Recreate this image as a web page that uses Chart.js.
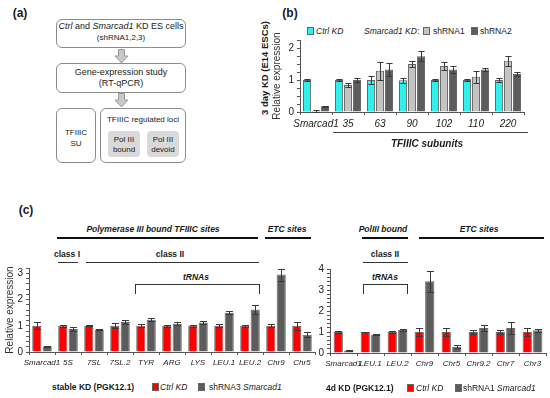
<!DOCTYPE html>
<html lang="en">
<head>
<meta charset="UTF-8">
<title>Smarcad1 KD and TFIIIC</title>
<script src="https://cdn.jsdelivr.net/npm/chart.js@4.4.0/dist/chart.umd.min.js"></script>
<style>
  body { margin: 0; width: 550px; height: 398px; position: relative; background: #fff; overflow: hidden;
         font-family: "Liberation Sans", Arial, sans-serif; color: #1a1a1a; }
  .c { position: absolute; white-space: nowrap; transform: translate(-50%, -50%); }
  .l { position: absolute; white-space: nowrap; transform: translateY(-50%); }
  .rot { transform: translate(-50%, -50%) rotate(-90deg); }
  .b { font-weight: bold; }
  .bi { font-weight: bold; font-style: italic; }
  .box { position: absolute; border: 1px solid #8c8c8c; border-radius: 6px; box-sizing: border-box; }
  .inner { position: absolute; background: #d9d9d9; border-radius: 4px; }
  .hl { position: absolute; background: #111; }
  .brk { position: absolute; border: 1px solid #333; border-bottom: none; box-sizing: border-box; }
  .key { position: absolute; width: 7px; height: 8px; transform: translateY(-50%); box-sizing: border-box; border: 1px solid #666; }
  canvas { position: absolute; }
</style>
</head>
<body>

<!-- panel (a): workflow -->
<div class="c b" style="left:20px;top:13px;font-size:12px">(a)</div>
<div class="box" style="left:56px;top:19px;width:130px;height:29px"></div>
<div class="c" style="left:121px;top:26px;font-size:9px"><i>Ctrl</i> and <i>Smarcad1</i> KD ES cells</div>
<div class="c" style="left:121px;top:37px;font-size:8px">(shRNA1,2,3)</div>
<svg style="position:absolute;left:114px;top:49px" width="15" height="15"><polygon points="4.5,0.5 10.5,0.5 10.5,7 14,7 7.5,14 1,7 4.5,7" fill="#c8c8c8" stroke="#9a9a9a"/></svg>
<div class="box" style="left:56px;top:63px;width:130px;height:30px"></div>
<div class="c" style="left:121px;top:72px;font-size:9px">Gene-expression study</div>
<div class="c" style="left:121px;top:83px;font-size:9px">(RT-qPCR)</div>
<svg style="position:absolute;left:114px;top:93px" width="15" height="15"><polygon points="4.5,0.5 10.5,0.5 10.5,7 14,7 7.5,14 1,7 4.5,7" fill="#c8c8c8" stroke="#9a9a9a"/></svg>
<div class="box" style="left:56px;top:108px;width:40px;height:55px"></div>
<div class="c" style="left:76px;top:132px;font-size:8px">TFIIIC</div>
<div class="c" style="left:76px;top:143px;font-size:8px">SU</div>
<div class="box" style="left:100px;top:108px;width:86px;height:55px"></div>
<div class="c" style="left:143px;top:119px;font-size:8px">TFIIIC regulated loci</div>
<div class="inner" style="left:108px;top:131px;width:32px;height:26px"></div>
<div class="c" style="left:124px;top:139px;font-size:8px">Pol III</div>
<div class="c" style="left:124px;top:149px;font-size:8px">bound</div>
<div class="inner" style="left:147px;top:131px;width:32px;height:26px"></div>
<div class="c" style="left:163px;top:139px;font-size:8px">Pol III</div>
<div class="c" style="left:163px;top:149px;font-size:8px">devoid</div>

<!-- panel (b) -->
<div class="c b" style="left:290px;top:13px;font-size:12px">(b)</div>
<div class="c b rot" style="left:264px;top:68px;font-size:9.5px">3 day KD (E14 ESCs)</div>
<div class="key" style="left:307px;top:31px;background:#2ff0f0"></div>
<div class="l" style="left:316px;top:31px;font-size:8.5px"><i>Ctrl KD</i></div>
<div class="l" style="left:364px;top:31px;font-size:8.5px"><i>Smarcad1 KD</i>:</div>
<div class="key" style="left:423px;top:31px;background:#c4c4c4"></div>
<div class="l" style="left:433px;top:31px;font-size:8.5px">shRNA1</div>
<div class="key" style="left:471px;top:31px;background:#5c5c5c"></div>
<div class="l" style="left:480px;top:31px;font-size:8.5px">shRNA2</div>
<canvas id="chartB" width="262" height="104" style="left:270px;top:30px"></canvas>
<div class="hl" style="left:333px;top:132px;width:195px;height:1px;background:#444"></div>
<div class="c bi" style="left:427px;top:143px;font-size:10px">TFIIIC subunits</div>

<!-- panel (c) -->
<div class="c b" style="left:26px;top:210px;font-size:12px">(c)</div>
<div class="c bi" style="left:153px;top:229px;font-size:8.5px">Polymerase III bound TFIIIC sites</div>
<div class="hl" style="left:57px;top:237px;width:201px;height:2px"></div>
<div class="c bi" style="left:287px;top:229px;font-size:8.5px">ETC sites</div>
<div class="hl" style="left:265px;top:237px;width:46px;height:2px"></div>
<div class="c b" style="left:67px;top:254px;font-size:8.5px">class I</div>
<div class="hl" style="left:58px;top:262px;width:20px;height:1px;background:#333"></div>
<div class="c b" style="left:170px;top:254px;font-size:8.5px">class II</div>
<div class="hl" style="left:86px;top:262px;width:173px;height:1px;background:#333"></div>
<div class="c bi" style="left:196px;top:277px;font-size:8.5px">tRNAs</div>
<div class="brk" style="left:135px;top:284px;width:125px;height:10px"></div>

<div class="c bi" style="left:383px;top:229px;font-size:8.5px">PolIII bound</div>
<div class="hl" style="left:362px;top:237px;width:46px;height:2px"></div>
<div class="c bi" style="left:479px;top:229px;font-size:8.5px">ETC sites</div>
<div class="hl" style="left:419px;top:237px;width:125px;height:2px"></div>
<div class="c b" style="left:385px;top:254px;font-size:8.5px">class II</div>
<div class="hl" style="left:363px;top:262px;width:45px;height:1px;background:#333"></div>
<div class="c bi" style="left:385px;top:277px;font-size:8.5px">tRNAs</div>
<div class="brk" style="left:363px;top:284px;width:45px;height:10px"></div>

<canvas id="chartStable" width="320" height="116" style="left:0px;top:258px"></canvas>
<canvas id="chartKd" width="245" height="116" style="left:305px;top:259px"></canvas>

<div class="l b" style="left:52px;top:387px;font-size:8.5px">stable KD (PGK12.1)</div>
<div class="key" style="left:152px;top:387px;background:#ff0000"></div>
<div class="l" style="left:160px;top:387px;font-size:8.5px"><i>Ctrl KD</i></div>
<div class="key" style="left:198px;top:387px;background:#5c5c5c"></div>
<div class="l" style="left:209px;top:387px;font-size:8.5px">shRNA3 <i>Smarcad1</i></div>

<div class="l b" style="left:326px;top:388px;font-size:8.5px">4d KD (PGK12.1)</div>
<div class="key" style="left:407px;top:388px;background:#ff0000"></div>
<div class="l" style="left:416px;top:388px;font-size:8.5px"><i>Ctrl KD</i></div>
<div class="key" style="left:455px;top:388px;background:#5c5c5c"></div>
<div class="l" style="left:463px;top:388px;font-size:8.5px">shRNA1 <i>Smarcad1</i></div>

<script>
// (b) 3 day KD in E14 ESCs, TFIIIC subunits
var subunitLabels = ['Smarcad1', '35', '63', '90', '102', '110', '220'];
var ctrlB     = [1.0, 1.0, 1.0, 0.99, 1.0, 1.0, 1.0];
var ctrlBErr  = [0.03, 0.02, 0.12, 0.08, 0.02, 0.02, 0.05];
var sh1B      = [0.03, 0.84, 1.29, 1.5, 1.44, 1.1, 1.6];
var sh1BErr   = [0.03, 0.07, 0.28, 0.1, 0.12, 0.18, 0.15];
var sh2B      = [0.18, 1.0, 1.33, 1.74, 1.33, 1.33, 1.19];
var sh2BErr   = [0.01, 0.05, 0.21, 0.16, 0.11, 0.05, 0.05];

// (c) stable KD (PGK12.1)
var stableLabels = ['Smarcad1', '5S', '7SL', '7SL.2', 'TYR', 'ARG', 'LYS', 'LEU.1', 'LEU.2', 'Chr9', 'Chr5'];
var stableCtrl    = [1, 1, 1, 1, 1, 1, 1, 1, 1, 1, 1];
var stableCtrlErr = [0.13, 0.03, 0.02, 0.1, 0.06, 0.03, 0.03, 0.05, 0.03, 0.05, 0.15];
var stableSh3     = [0.2, 0.88, 0.85, 1.14, 1.23, 1.08, 1.12, 1.5, 1.62, 2.95, 0.66];
var stableSh3Err  = [0.02, 0.07, 0.03, 0.08, 0.05, 0.07, 0.05, 0.06, 0.18, 0.23, 0.1];

// (c) 4d KD (PGK12.1)
var kdLabels = ['Smarcad1', 'LEU.1', 'LEU.2', 'Chr9', 'Chr5', 'Chr9.2', 'Chr7', 'Chr3'];
var kdCtrl    = [1, 1, 1, 1, 1, 1, 1, 1];
var kdCtrlErr = [0.04, 0.02, 0.04, 0.2, 0.2, 0.1, 0.1, 0.18];
var kdSh1     = [0.12, 0.87, 1.1, 3.42, 0.3, 1.19, 1.19, 1.08];
var kdSh1Err  = [0.01, 0.02, 0.04, 0.5, 0.07, 0.15, 0.3, 0.06];

Chart.defaults.font.family = '"Liberation Sans", Arial, sans-serif';
Chart.defaults.color = '#222';

// draws +/- error whiskers over each bar
var errorBars = {
  id: 'errorBars',
  afterDatasetsDraw: function(chart) {
    var ctx = chart.ctx, y = chart.scales.y;
    chart.data.datasets.forEach(function(ds, i) {
      if (!ds.errors) return;
      chart.getDatasetMeta(i).data.forEach(function(bar, j) {
        var v = ds.data[j], e = ds.errors[j];
        var top = Math.round(y.getPixelForValue(v + e)) + 0.5;
        var bot = Math.round(y.getPixelForValue(Math.max(v - e, 0))) + 0.5;
        var x = Math.round(bar.x) + 0.5;
        var half = bar.width * 0.38;
        ctx.save();
        ctx.strokeStyle = '#3a3a3a';
        ctx.lineWidth = 1;
        ctx.beginPath();
        ctx.moveTo(x, top); ctx.lineTo(x, bot);
        ctx.moveTo(x - half, top); ctx.lineTo(x + half, top);
        ctx.moveTo(x - half, bot); ctx.lineTo(x + half, bot);
        ctx.stroke();
        ctx.restore();
      });
    });
  }
};

function makeBars(id, labels, sets, cfg) {
  return new Chart(document.getElementById(id), {
    type: 'bar',
    data: { labels: labels, datasets: sets },
    options: {
      responsive: false,
      animation: false,
      events: [],
      layout: { padding: { top: 10, right: cfg.padRight, left: 0, bottom: 0 } },
      plugins: { legend: { display: false }, tooltip: { enabled: false } },
      datasets: { bar: { categoryPercentage: cfg.catPct, barPercentage: cfg.barPct, borderWidth: 1, borderColor: '#666' } },
      scales: {
        x: {
          grid: { drawOnChartArea: false, tickLength: 3, color: '#555' },
          border: { color: '#555' },
          ticks: { autoSkip: false, maxRotation: 0, padding: 3, font: { size: cfg.xFont, style: 'italic' }, color: '#222' },
          afterFit: function(s) { s.height = 22; }
        },
        y: {
          min: 0, max: cfg.yMax,
          grid: { drawOnChartArea: false, tickLength: 3, color: '#555' },
          border: { color: '#555' },
          ticks: { stepSize: cfg.yStep, autoSkip: false, padding: 3, font: { size: 10 },
                   callback: function(v) { return Number.isInteger(v) ? v : ''; } },
          title: { display: !!cfg.yTitle, text: cfg.yTitle || '', padding: { top: cfg.titlePad || 0, bottom: 0 },
                   font: { size: 10 }, color: '#333' },
          afterFit: function(s) { s.width = cfg.yWidth; }
        }
      }
    },
    plugins: [errorBars]
  });
}

makeBars('chartB', subunitLabels, [
  { label: 'Ctrl KD', data: ctrlB, errors: ctrlBErr, backgroundColor: '#2ff0f0' },
  { label: 'shRNA1', data: sh1B, errors: sh1BErr, backgroundColor: '#c4c4c4' },
  { label: 'shRNA2', data: sh2B, errors: sh2BErr, backgroundColor: '#5c5c5c' }
], { yMax: 2.25, yStep: 0.25, yWidth: 30, padRight: 8, catPct: 0.84, barPct: 0.9, xFont: 10,
     yTitle: 'Relative expression', titlePad: 1 });

makeBars('chartStable', stableLabels, [
  { label: 'Ctrl KD', data: stableCtrl, errors: stableCtrlErr, backgroundColor: '#ff0000' },
  { label: 'shRNA3 Smarcad1', data: stableSh3, errors: stableSh3Err, backgroundColor: '#5c5c5c' }
], { yMax: 3.2, yStep: 0.2, yWidth: 29, padRight: 5, catPct: 0.8, barPct: 0.88, xFont: 8,
     yTitle: 'Relative expression', titlePad: 4 });

makeBars('chartKd', kdLabels, [
  { label: 'Ctrl KD', data: kdCtrl, errors: kdCtrlErr, backgroundColor: '#ff0000' },
  { label: 'shRNA1 Smarcad1', data: kdSh1, errors: kdSh1Err, backgroundColor: '#5c5c5c' }
], { yMax: 4, yStep: 0.2, yWidth: 25, padRight: 4, catPct: 0.78, barPct: 0.88, xFont: 8 });
</script>
</body>
</html>
